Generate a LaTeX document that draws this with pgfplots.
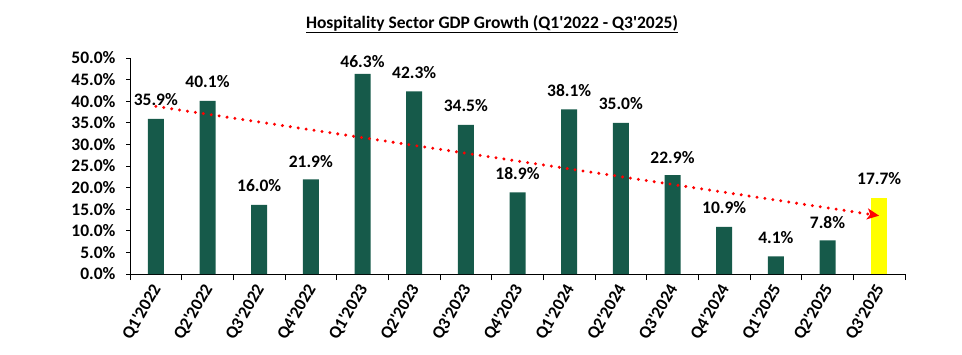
\documentclass[border=0pt]{standalone}
\usepackage{fontspec}
\setmainfont{Carlito}[Ligatures=TeXReset]
\usepackage{pgfplots}
\pgfplotsset{compat=1.18}
\usepackage{pgfplotstable}
\usetikzlibrary{arrows.meta}
\definecolor{bargreen}{RGB}{22,90,74}
\definecolor{baryellow}{RGB}{255,255,0}
\pgfplotstableread{
x y off
0 35.9 13
1 40.1 13
2 16.0 13
3 21.9 12
4 46.3 6
5 42.3 13
6 34.5 13
7 18.9 13
8 38.1 13
9 35.0 13
10 22.9 12
11 10.9 13
12 4.1 13
13 7.8 12
}\greendata
\pgfplotstableread{
x y off
14 17.7 13
}\yellowdata
\pgfplotstableread{
x y
0 38.8
14 13.5
}\trenddata
\pgfplotsset{
  barlabels/.style={
    point meta=y,
    nodes near coords={\pgfmathprintnumber[fixed,fixed zerofill,precision=1]{\pgfplotspointmeta}\%},
    visualization depends on={\thisrow{off} \as \myoff},
    every node near coord/.append style={font=\fontsize{17.5}{20}\selectfont\bfseries, anchor=base, yshift=\myoff pt, inner sep=0pt},
  }
}
\begin{document}
\begin{tikzpicture}[x=1pt,y=1pt]
\begin{axis}[
  at={(130pt,80pt)}, anchor=south west,
  scale only axis, width=775pt, height=216pt,
  xmin=-0.5, xmax=14.5, ymin=0, ymax=50,
  axis x line*=bottom, axis y line*=left,
  axis line style={line width=0.9pt, black},
  /pgf/number format/assume math mode=true,
  ytick={0,5,...,50},
  yticklabel={\pgfmathprintnumber[fixed,fixed zerofill,precision=1]{\tick}\%},
  yticklabel style={font=\fontsize{17.5}{20}\selectfont\bfseries, xshift=-7pt},
  xtick={0,...,14},
  xticklabels={Q1'2022,Q2'2022,Q3'2022,Q4'2022,Q1'2023,Q2'2023,Q3'2023,Q4'2023,Q1'2024,Q2'2024,Q3'2024,Q4'2024,Q1'2025,Q2'2025,Q3'2025},
  xticklabel style={font=\fontsize{17.5}{20}\selectfont\bfseries, xshift=3pt, yshift=-5pt, rotate=60, anchor=east},
  minor xtick={-0.5,0.5,...,14.5},
  major x tick style={draw=none},
  minor x tick style={line width=0.9pt, black},
  major y tick style={line width=0.9pt, black},
  tick align=outside,
  major tick length=4pt,
  minor tick length=6pt,
  clip=false,
  ybar, bar width=16pt,
]
\addplot[fill=bargreen, draw=none, bar shift=0pt, barlabels] table[x=x,y=y] {\greendata};
\addplot[fill=baryellow, draw=none, bar shift=0pt, barlabels] table[x=x,y=y] {\yellowdata};
\addplot[sharp plot, red, line width=3.3pt, line cap=round, dash pattern=on 0pt off 8pt,
  -{Stealth[length=12pt,width=11pt,inset=3pt]}] table[x=x,y=y] {\trenddata};
\end{axis}
\node[font=\fontsize{17.5}{20}\selectfont\bfseries, anchor=base] at (492pt,325.7pt) {\underline{Hospitality Sector GDP Growth (Q1'2022 - Q3'2025)}};
\pgfresetboundingbox
\path (0,0) rectangle (962pt,354pt);
\end{tikzpicture}
\end{document}
